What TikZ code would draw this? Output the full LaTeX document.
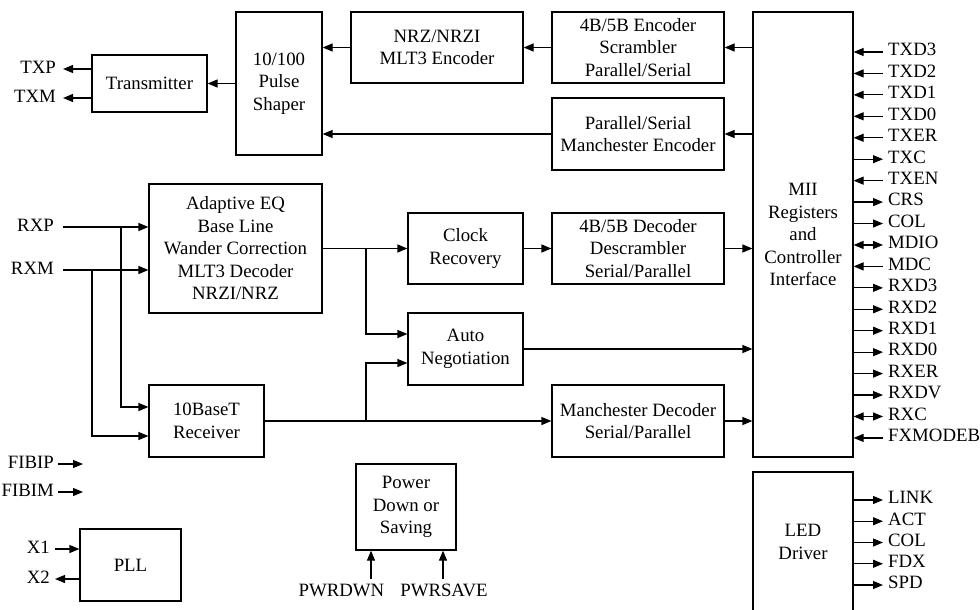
\documentclass[tikz,border=0pt]{standalone}
\usepackage{fontspec}
\setmainfont{Liberation Serif}
\usetikzlibrary{arrows.meta,calc}
\begin{document}
\begin{tikzpicture}[x=1pt,y=-1pt,
  txt/.style={font=\fontsize{18.8}{22.5}\selectfont},
  blk/.style={txt,draw,line width=1.2pt,align=center,inner sep=0pt},
  wire/.style={line width=1.2pt},
  arr/.style={wire,-{Triangle[length=10pt,width=8pt]}},
  darr/.style={wire,{Triangle[length=10pt,width=8pt]}-{Triangle[length=10pt,width=8pt]}},
  lbl/.style={txt,inner sep=0pt}]
\clip (0,0) rectangle (980,610);
% blocks
\node[blk,minimum width=115pt,minimum height=57pt] (tx) at (149.5,83.5) {Transmitter};
\node[blk,minimum width=86pt,minimum height=143pt] (shaper) at (279,83.5) {10/100\\Pulse\\Shaper};
\node[blk,minimum width=172pt,minimum height=71pt] (nrz) at (437,47.5) {NRZ/NRZI\\MLT3 Encoder};
\node[blk,minimum width=172pt,minimum height=71pt] (enc) at (638,47.5) {4B/5B Encoder\\Scrambler\\Parallel/Serial};
\node[blk,minimum width=172pt,minimum height=72pt] (menc) at (638,134) {Parallel/Serial\\Manchester Encoder};
\node[blk,minimum width=100pt,minimum height=445pt] (mii) at (803,234.5) {MII\\Registers\\and\\Controller\\Interface};
\node[blk,minimum width=173pt,minimum height=129pt] (adeq) at (235.5,248.5) {Adaptive EQ\\Base Line\\Wander Correction\\MLT3 Decoder\\NRZI/NRZ};
\node[blk,minimum width=115pt,minimum height=71pt] (clk) at (465.5,248.5) {Clock\\Recovery};
\node[blk,minimum width=172pt,minimum height=71pt] (dec) at (638,248.5) {4B/5B Decoder\\Descrambler\\Serial/Parallel};
\node[blk,minimum width=115pt,minimum height=72pt] (an) at (465.5,349) {Auto\\Negotiation};
\node[blk,minimum width=115pt,minimum height=72pt] (rx10) at (206.5,421) {10BaseT\\Receiver};
\node[blk,minimum width=172pt,minimum height=72pt] (mdec) at (638,421) {Manchester Decoder\\Serial/Parallel};
\node[blk,minimum width=100pt,minimum height=86pt] (pwr) at (406,507) {Power\\Down or\\Saving};
\node[blk,minimum width=101pt,minimum height=72pt] (pll) at (130.5,565) {PLL};
\node[blk,minimum width=100pt,minimum height=140pt] (led) at (803,542) {LED\\Driver};
% transmit path
\draw[arr] (enc.west) -- (nrz.east);
\draw[arr] (nrz.west) -- (nrz.west -| shaper.east);
\draw[arr] (mii.west |- enc.east) -- (enc.east);
\draw[arr] (mii.west |- menc.east) -- (menc.east);
\draw[arr] (menc.west) -- (menc.west -| shaper.east);
\draw[arr] (shaper.west) -- (tx.east);
\coordinate (txp) at (63,69);
\coordinate (txm) at (63,98);
\draw[arr] (tx.west |- txp) -- (txp);
\draw[arr] (tx.west |- txm) -- (txm);
\node[lbl,anchor=base east] (ltxp) at (56,73.5) {TXP};
\node[lbl,anchor=base east] (ltxm) at (56,102.5) {TXM};
% receive path
\coordinate (rxp) at (63,227);
\coordinate (rxm) at (63,270);
\coordinate (b3) at (121,227);
\coordinate (b4) at (92,270);
\node[lbl,anchor=base east] (lrxp) at (54,231.5) {RXP};
\node[lbl,anchor=base east] (lrxm) at (54,274.5) {RXM};
\draw[arr] (rxp) -- (rxp -| adeq.west);
\draw[arr] (rxm) -- (rxm -| adeq.west);
\draw[arr] (b3) |- ($(rx10.west)+(0,-14)$);
\draw[arr] (b4) |- ($(rx10.west)+(0,15)$);
\draw[arr] (adeq.east) -- (clk.west);
\coordinate (b1) at (366,248.5);
\draw[arr] (b1) |- ($(an.west)+(0,-15)$);
\draw[arr] (rx10.east) -- (mdec.west);
\coordinate (b2) at (366,421);
\draw[arr] (b2) |- ($(an.west)+(0,14)$);
\draw[arr] (clk.east) -- (dec.west);
\draw[arr] (dec.east) -- (mii.west |- dec.east);
\draw[arr] (an.east) -- (mii.west |- an.east);
\draw[arr] (mdec.east) -- (mii.west |- mdec.east);
% fiber inputs
\coordinate (fp0) at (58,464); \coordinate (fp1) at (83,464);
\coordinate (fm0) at (58,492); \coordinate (fm1) at (83,492);
\draw[arr] (fp0) -- (fp1);
\draw[arr] (fm0) -- (fm1);
\node[lbl,anchor=base east] (lfp) at (54,468) {FIBIP};
\node[lbl,anchor=base east] (lfm) at (54,496) {FIBIM};
% PLL
\coordinate (x1) at (55,549);
\coordinate (x2) at (55,579);
\draw[arr] (x1) -- (x1 -| pll.west);
\draw[arr] (pll.west |- x2) -- (x2);
\node[lbl,anchor=base east] (lx1) at (50,553.5) {X1};
\node[lbl,anchor=base east] (lx2) at (50,583.5) {X2};
% power
\coordinate (pd) at (371,579);
\coordinate (ps) at (443,579);
\draw[arr] (pd) -- (pd |- pwr.south);
\draw[arr] (ps) -- (ps |- pwr.south);
\node[lbl,anchor=base] (lpd) at (341.5,596.5) {PWRDWN};
\node[lbl,anchor=base] (lps) at (444,596.5) {PWRSAVE};
% MII pins
\foreach \n/\d [count=\i from 0] in {TXD3/i,TXD2/i,TXD1/i,TXD0/i,TXER/i,TXC/o,TXEN/i,CRS/o,COL/o,MDIO/b,MDC/i,RXD3/o,RXD2/o,RXD1/o,RXD0/o,RXER/o,RXDV/o,RXC/b,FXMODEB/i}{
  \coordinate (p\i) at (883,{52+21.44*\i});
  \node[lbl,anchor=base west] (lp\i) at ($(p\i)+(5,3.8)$) {\n};
  \if\d i \draw[arr] (p\i) -- (mii.east |- p\i);\fi
  \if\d o \draw[arr] (mii.east |- p\i) -- (p\i);\fi
  \if\d b \draw[darr] (mii.east |- p\i) -- (p\i);\fi
}
% LED pins
\foreach \n [count=\i from 0] in {LINK,ACT,COL,FDX,SPD}{
  \coordinate (q\i) at (883,{500+21.25*\i});
  \node[lbl,anchor=base west] (lq\i) at ($(q\i)+(5,3.8)$) {\n};
  \draw[arr] (led.east |- q\i) -- (q\i);
}
\end{tikzpicture}
\end{document}
